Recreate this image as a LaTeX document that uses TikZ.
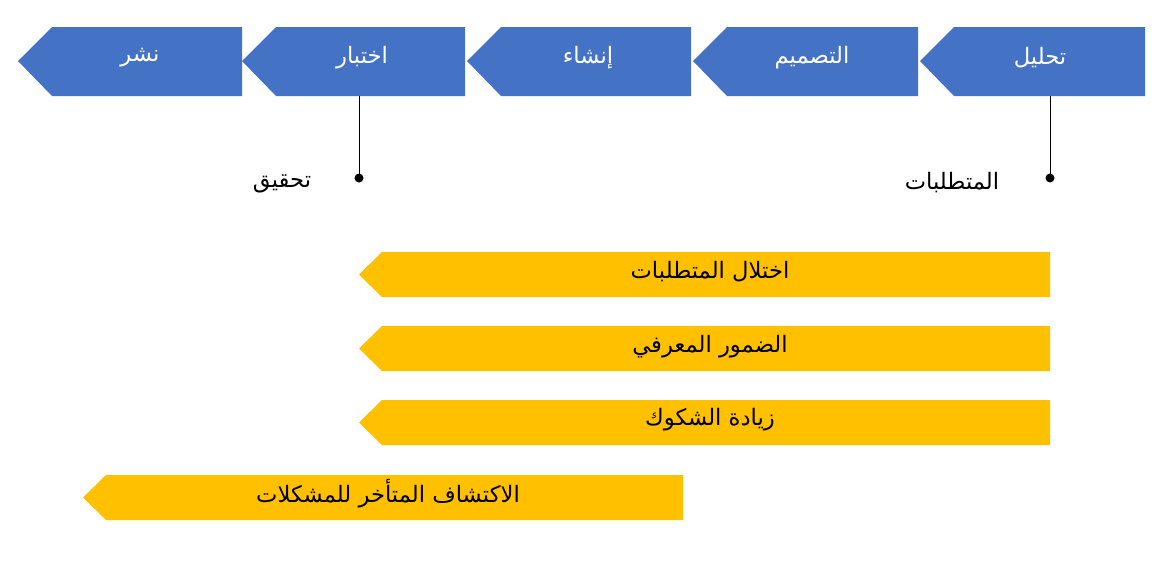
\documentclass[tikz,border=0pt]{standalone}
\usepackage{fontspec}
\setmainfont{Liberation Sans}
\newfontfamily\arabicfont[Script=Arabic]{DejaVu Sans}
\TeXXeTstate=1
\definecolor{stageblue}{HTML}{4472C4}
\definecolor{issueyellow}{HTML}{FFC000}
\tikzset{
    stagelabel/.style={text=white,font=\arabicfont\fontsize{17}{20}\selectfont},
    issuelabel/.style={text=black,font=\arabicfont\fontsize{17}{20}\selectfont},
    notelabel/.style={text=black,font=\arabicfont\fontsize{17}{20}\selectfont},
}
\newcommand{\stagebox}[3]{% tip x, right x, colour
    \fill[#3] (#1,61) -- (#1+34,27) -- (#2,27) -- (#2,96) -- (#1+34,96) -- cycle;}
\newcommand{\issuebox}[4]{% tip x, right x, top y, bottom y
    \fill[issueyellow] (#1,#3/2+#4/2) -- (#1+23,#3) -- (#2,#3) -- (#2,#4) -- (#1+23,#4) -- cycle;}
\begin{document}
\begin{tikzpicture}[x=0.75pt,y=-0.75pt]
    \useasboundingbox (0,0) rectangle (1164,575);

    % stages
    \stagebox{18}{242}{stageblue}
    \stagebox{242}{465}{stageblue}
    \stagebox{467}{691}{stageblue}
    \stagebox{693}{918}{stageblue}
    \stagebox{920}{1145}{stageblue}
    \node[stagelabel] (publish) at (140,58) {\beginR نشر\endR};
    \node[stagelabel] (test) at (362,58) {\beginR اختبار\endR};
    \node[stagelabel] (build) at (588,58) {\beginR إنشاء\endR};
    \node[stagelabel] (design) at (812,58) {\beginR التصميم\endR};
    \node[stagelabel] (analysis) at (1040,58) {\beginR تحليل\endR};

    % markers
    \coordinate (testbottom) at (359,96);
    \coordinate (testdot) at (359,178);
    \coordinate (analysisbottom) at (1050,96);
    \coordinate (analysisdot) at (1050,178);
    \draw (testbottom) -- (testdot);
    \draw (analysisbottom) -- (analysisdot);
    \fill (testdot) circle (4.5);
    \fill (analysisdot) circle (4.5);
    \node[notelabel] (verify) at (282,184) {\beginR تحقيق\endR};
    \node[notelabel] (requirements) at (952,183) {\beginR المتطلبات\endR};

    % issues
    \issuebox{359}{1050}{252}{297}
    \issuebox{359}{1050}{326}{371}
    \issuebox{359}{1050}{400}{445}
    \issuebox{83}{683}{475}{520}
    \node[issuelabel] (gap) at (710,272) {\beginR اختلال المتطلبات\endR};
    \node[issuelabel] (atrophy) at (710,347) {\beginR الضمور المعرفي\endR};
    \node[issuelabel] (doubt) at (710,420) {\beginR زيادة الشكوك\endR};
    \node[issuelabel] (late) at (388,494) {\beginR الاكتشاف المتأخر للمشكلات\endR};
\end{tikzpicture}
\end{document}
